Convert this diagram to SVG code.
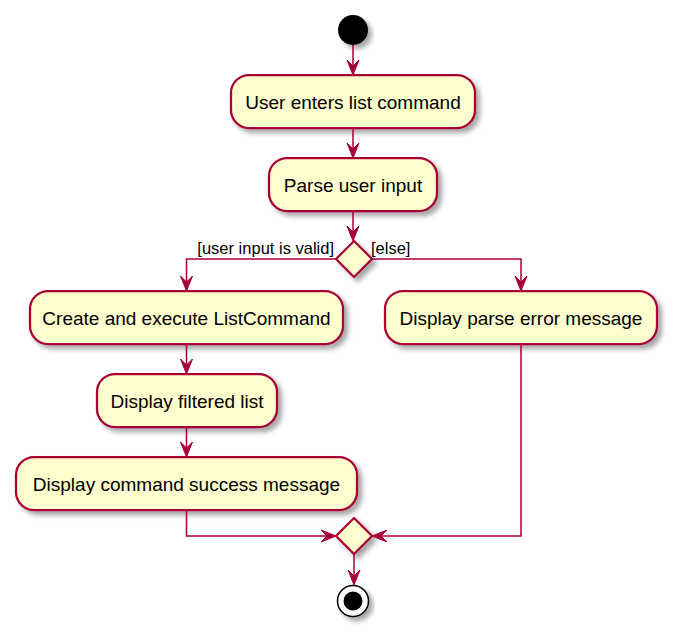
<svg xmlns="http://www.w3.org/2000/svg" width="681" height="641" viewBox="0 0 681 641">
<defs>
<filter id="sh" x="-10%" y="-10%" width="130%" height="150%">
<feGaussianBlur in="SourceAlpha" stdDeviation="2.5"/>
<feOffset dx="4" dy="4" result="b"/>
<feComponentTransfer><feFuncA type="linear" slope="0.35"/></feComponentTransfer>
<feMerge><feMergeNode/><feMergeNode in="SourceGraphic"/></feMerge>
</filter>
</defs>
<style>
.box{fill:#FEFECE;stroke:#A80036;stroke-width:2.25;filter:url(#sh)}
.dia{fill:#FEFECE;stroke:#A80036;stroke-width:2.25;filter:url(#sh)}
.t{font-family:"Liberation Sans",Arial,sans-serif;font-size:19px;fill:#000;text-anchor:middle}
.lbl{font-family:"Liberation Sans",Arial,sans-serif;font-size:16.5px;fill:#000}
.c{fill:none;stroke:#A80036;stroke-width:1.5}
.ah{fill:#A80036;stroke:#A80036;stroke-width:1}
</style>
<g id="start"><circle cx="353" cy="30" r="15" fill="#000" filter="url(#sh)"/></g>
<g id="n1"><rect class="box" x="231" y="75" width="244" height="53" rx="18"/><text class="t" x="353" y="109">User enters list command</text></g>
<g id="n2"><rect class="box" x="269" y="158" width="168" height="53" rx="18"/><text class="t" x="353" y="192">Parse user input</text></g>
<g id="d1"><polygon class="dia" points="354,241 372,259 354,277 336,259"/></g>
<g id="n3"><rect class="box" x="30" y="291" width="313" height="53" rx="18"/><text class="t" x="186.5" y="325">Create and execute ListCommand</text></g>
<g id="n4"><rect class="box" x="385" y="291" width="272" height="53" rx="18"/><text class="t" x="521" y="325">Display parse error message</text></g>
<g id="n5"><rect class="box" x="97" y="374" width="180" height="53" rx="18"/><text class="t" x="187" y="408">Display filtered list</text></g>
<g id="n6"><rect class="box" x="16" y="457" width="341" height="53" rx="18"/><text class="t" x="186.5" y="491">Display command success message</text></g>
<g id="d2"><polygon class="dia" points="354,518 372,536 354,554 336,536"/></g>
<g id="end"><circle cx="353" cy="601" r="15.5" fill="#fff" stroke="#000" stroke-width="1.5" filter="url(#sh)"/><circle cx="353" cy="601" r="9.5" fill="#000"/></g>
<g id="connectors">
<line class="c" x1="353" y1="45" x2="353" y2="74"/>
<polygon class="ah" points="347,60 353,75 359,60 353,66"/>
<line class="c" x1="353" y1="128" x2="353" y2="157"/>
<polygon class="ah" points="347,143 353,158 359,143 353,149"/>
<line class="c" x1="353" y1="211" x2="353" y2="240"/>
<polygon class="ah" points="347,226 353,241 359,226 353,232"/>
<polyline class="c" points="336,259 186.5,259 186.5,290"/>
<polygon class="ah" points="180.5,276 186.5,291 192.5,276 186.5,282"/>
<text class="lbl" x="334" y="254" text-anchor="end">[user input is valid]</text>
<polyline class="c" points="372,259 521,259 521,290"/>
<polygon class="ah" points="515,276 521,291 527,276 521,282"/>
<text class="lbl" x="371" y="254">[else]</text>
<line class="c" x1="186.5" y1="344" x2="186.5" y2="373"/>
<polygon class="ah" points="180.5,359 186.5,374 192.5,359 186.5,365"/>
<line class="c" x1="186.5" y1="427" x2="186.5" y2="456"/>
<polygon class="ah" points="180.5,442 186.5,457 192.5,442 186.5,448"/>
<polyline class="c" points="186.5,510 186.5,536 335,536"/>
<polygon class="ah" points="321,530 336,536 321,542 327,536"/>
<polyline class="c" points="521,344 521,536 373,536"/>
<polygon class="ah" points="387,530 372,536 387,542 381,536"/>
<line class="c" x1="354" y1="554" x2="354" y2="584"/>
<polygon class="ah" points="348,570 354,585 360,570 354,576"/>
</g>
</svg>
